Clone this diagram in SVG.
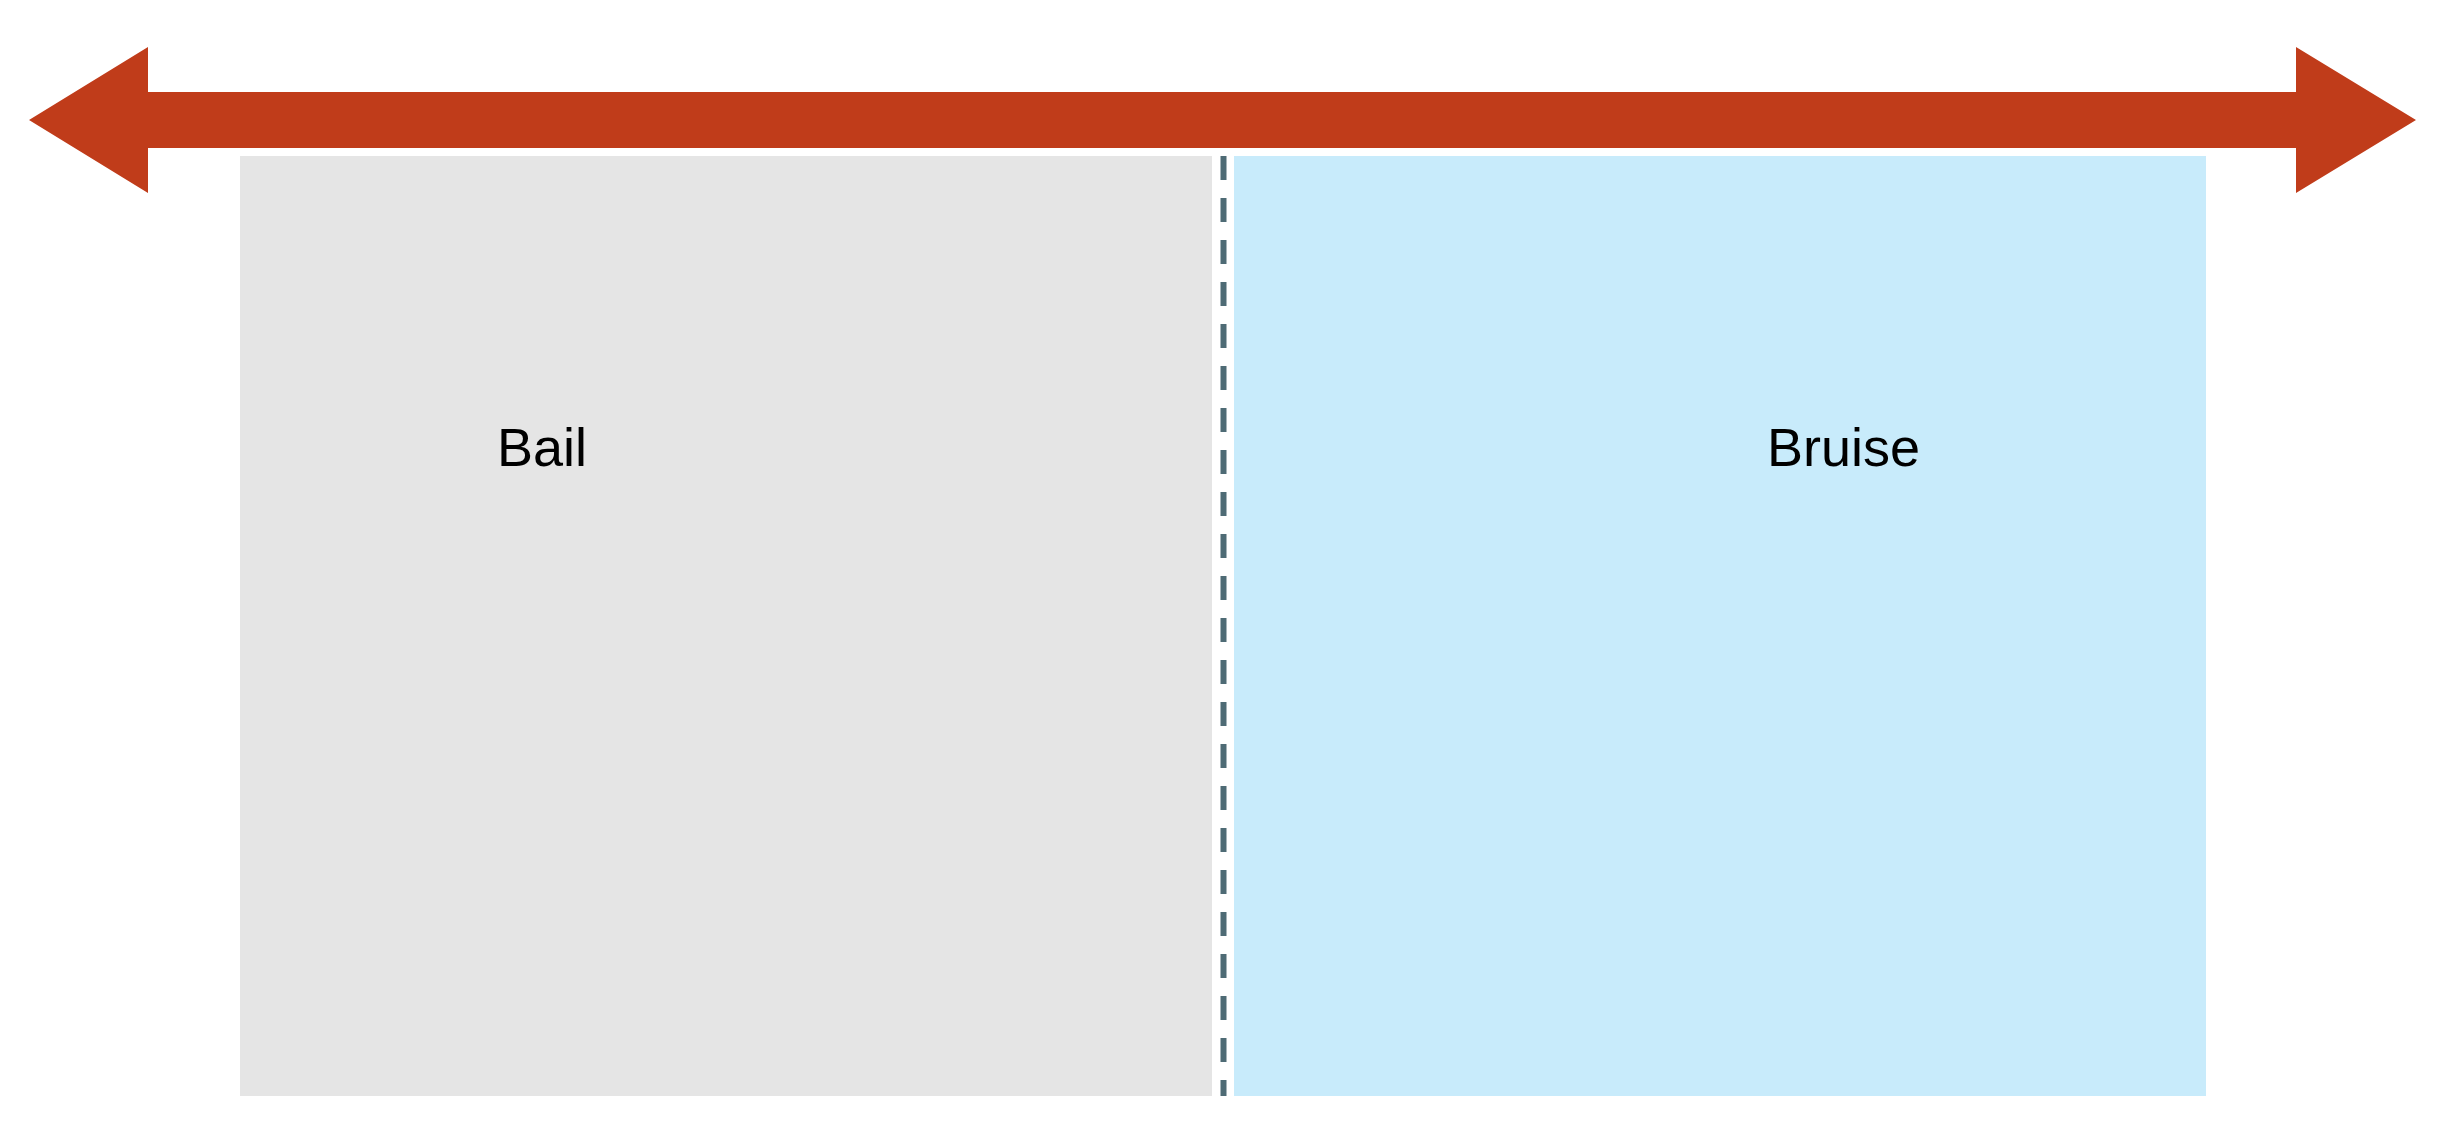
<svg xmlns="http://www.w3.org/2000/svg" width="2452" height="1138" viewBox="0 0 2452 1138">
<style>
.lbl{font-family:"Liberation Sans",Arial,sans-serif;font-size:54px;fill:#000000;}
</style>
<rect x="0" y="0" width="2452" height="1138" fill="#ffffff"/>
<g id="bail">
<rect x="240" y="156" width="972" height="940" fill="#e5e5e5"/>
<text class="lbl" x="497" y="466">Bail</text>
</g>
<g id="bruise">
<rect x="1234" y="156" width="972" height="940" fill="#c8ebfb"/>
<text class="lbl" x="1767" y="466">Bruise</text>
</g>
<g id="connectors">
<polygon points="29,120 148,47 148,92 2296,92 2296,47 2416,120 2296,193 2296,148 148,148 148,193" fill="#c03c1a"/>
<line x1="1223.5" y1="156" x2="1223.5" y2="1096" stroke="#4e6b75" stroke-width="6" stroke-dasharray="24 18"/>
</g>
</svg>
